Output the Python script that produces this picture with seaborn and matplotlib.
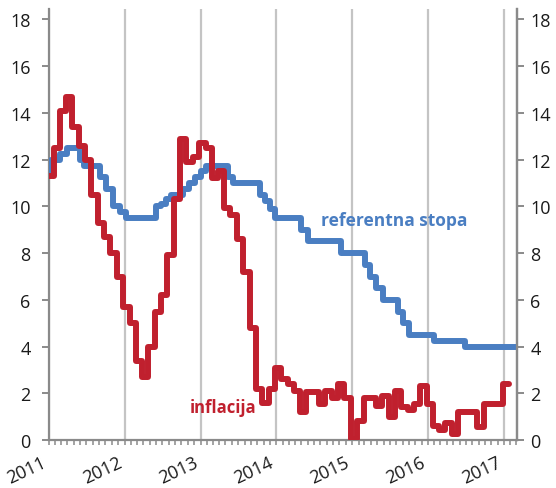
import matplotlib
matplotlib.use("Agg")
import matplotlib.pyplot as plt
import matplotlib.dates as mdates
import seaborn as sns
import pandas as pd
import numpy as np

# ---- data ----
inflation_start = "2010-12-01"
inflation = [11.3, 12.5, 14.1, 14.7, 13.4, 12.6, 12.0, 10.5, 9.3, 8.7, 8.0, 7.0,
             5.7, 5.0, 3.4, 2.7, 4.0, 5.5, 6.2, 7.9, 10.3, 12.9, 11.9, 12.1,
             12.7, 12.5, 11.2, 11.5, 9.95, 9.65, 8.6, 7.2, 4.8, 2.2, 1.6, 2.2,
             3.1, 2.6, 2.4, 2.1, 1.2, 2.05, 2.05, 1.55, 2.1, 1.8, 2.4, 1.8,
             0.05, 0.8, 1.8, 1.8, 1.45, 1.9, 1.0, 2.1, 1.4, 1.3, 1.55, 2.3,
             1.55, 0.6, 0.45, 0.75, 0.25, 1.2, 1.2, 1.2, 0.55, 1.55, 1.55, 1.55,
             2.4, 2.4]

rate_dates = ["2010-12-01", "2011-01-13", "2011-02-25", "2011-04-01", "2011-06-01",
              "2011-06-22", "2011-09-04", "2011-10-04", "2011-11-07", "2011-12-10",
              "2012-01-10", "2012-06-01", "2012-06-25", "2012-07-19", "2012-08-13",
              "2012-10-10", "2012-11-07", "2012-12-05", "2013-01-04", "2013-01-28",
              "2013-05-13", "2013-06-07", "2013-10-13", "2013-11-07", "2013-11-30",
              "2013-12-25", "2014-04-28", "2014-06-01", "2014-11-07", "2015-03-04",
              "2015-03-28", "2015-04-25", "2015-05-28", "2015-08-10", "2015-09-01",
              "2015-10-04", "2016-02-01", "2016-06-25", "2017-04-01"]
rate_values = [11.5, 12.0, 12.25, 12.5, 12.0, 11.75, 11.25, 10.75, 10.0, 9.75,
               9.5, 10.0, 10.1, 10.3, 10.5, 10.75, 11.0, 11.25, 11.5, 11.75,
               11.25, 11.0, 10.5, 10.25, 9.9, 9.5, 9.0, 8.5, 8.0, 7.5,
               7.0, 6.5, 6.0, 5.5, 5.0, 4.5, 4.25, 4.0, 4.0]

y_ticks = [0, 2, 4, 6, 8, 10, 12, 14, 16, 18]
label_rate = "referentna stopa"
label_infl = "inflacija"

# ---- frames ----
infl_dates = pd.date_range(inflation_start, periods=len(inflation), freq="MS") + pd.Timedelta(days=24)
df_infl = pd.DataFrame({"date": infl_dates, "value": inflation})
df_rate = pd.DataFrame({"date": pd.to_datetime(rate_dates), "value": rate_values})

sns.set_style("white")
plt.rcParams["font.family"] = ["Open Sans", "DejaVu Sans"]

RED = "#C0202E"
BLUE = "#4A7EC2"
GRAY = "#8a8a8a"

fig = plt.figure(figsize=(5.56, 4.89), dpi=100)
ax = fig.add_axes([0.0876, 0.098, 0.930 - 0.0876, 0.9796 - 0.098])

sns.lineplot(data=df_rate, x="date", y="value", ax=ax, color=BLUE, lw=4.3,
             drawstyle="steps-post", zorder=3, estimator=None, sort=False)
sns.lineplot(data=df_infl, x="date", y="value", ax=ax, color=RED, lw=4.3,
             drawstyle="steps-post", zorder=4, estimator=None, sort=False)

ax.set_xlim(pd.Timestamp("2011-01-01"), pd.Timestamp("2017-03-05"))
ax.set_ylim(0, 18.45)
ax.set_xlabel("")
ax.set_ylabel("")

ax.xaxis.set_major_locator(mdates.YearLocator())
ax.xaxis.set_major_formatter(mdates.DateFormatter("%Y"))
ax.xaxis.set_minor_locator(mdates.MonthLocator())
ax.grid(axis="x", which="major", color="#c4c4c4", lw=1.6, zorder=1)
ax.grid(axis="y", visible=False)

ax.set_yticks(y_ticks)
for s in ["left", "right", "bottom"]:
    ax.spines[s].set_visible(True)
    ax.spines[s].set_color(GRAY)
    ax.spines[s].set_linewidth(1.6)
ax.spines["top"].set_visible(False)

ax.tick_params(axis="y", which="major", left=True, right=False, length=5,
               width=1.4, color=GRAY, labelsize=13, pad=8, labelcolor="#1a1a1a")
ax.tick_params(axis="x", which="both", bottom=True, length=3.5, width=1.1,
               color=GRAY, direction="out")
ax.tick_params(axis="x", which="major", labelsize=13, pad=6, labelcolor="#1a1a1a")
for lab in ax.get_xticklabels():
    lab.set_rotation(25)
    lab.set_ha("right")
    lab.set_va("top")

ax2 = ax.twinx()
ax2.set_ylim(ax.get_ylim())
ax2.set_yticks(y_ticks)
ax2.tick_params(axis="y", which="major", right=True, length=5, width=1.4,
                color=GRAY, labelsize=13, pad=4.5, labelcolor="#1a1a1a")
for s in ["left", "top", "bottom"]:
    ax2.spines[s].set_visible(False)
ax2.spines["right"].set_color(GRAY)
ax2.spines["right"].set_linewidth(1.6)
ax2.grid(False)

ax.text(pd.Timestamp("2014-08-06"), 9.19, label_rate, color=BLUE, fontsize=12.5,
        fontweight="bold", ha="left", va="baseline", zorder=5)
ax.text(pd.Timestamp("2012-11-12"), 1.2, label_infl, color=RED, fontsize=12,
        fontweight="bold", ha="left", va="baseline", zorder=5)

fig.savefig("out.png", dpi=100)
